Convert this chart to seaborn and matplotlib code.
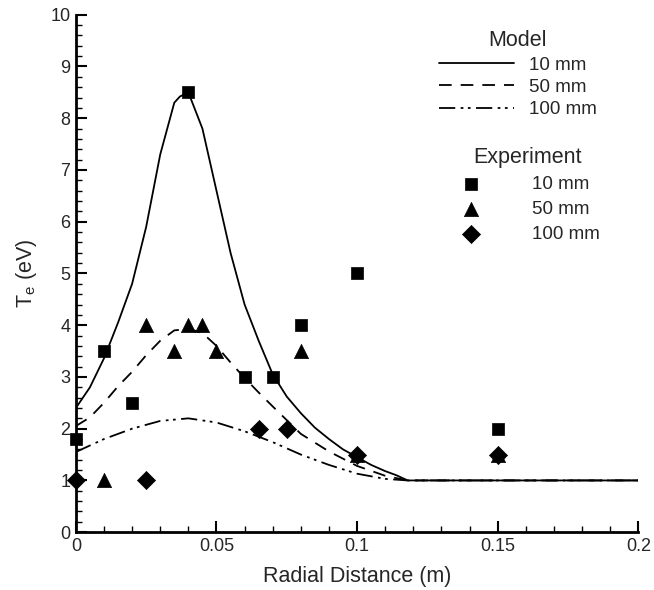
import numpy as np
import pandas as pd
import matplotlib
matplotlib.use("Agg")
import matplotlib.pyplot as plt
import seaborn as sns
from matplotlib.ticker import MultipleLocator

sns.set_style("ticks")
plt.rcParams['font.family'] = ['Liberation Sans', 'DejaVu Sans']

# ---- Model curves ----
m10_x = [0, 0.005, 0.01, 0.015, 0.02, 0.025, 0.03, 0.035, 0.037, 0.04, 0.045, 0.05, 0.055, 0.06, 0.065, 0.07, 0.075, 0.08, 0.085, 0.09, 0.095, 0.1, 0.105, 0.11, 0.114, 0.118, 0.2]
m10_y = [2.4, 2.8, 3.36, 4.05, 4.8, 5.9, 7.3, 8.3, 8.42, 8.5, 7.8, 6.6, 5.4, 4.4, 3.7, 3.05, 2.62, 2.3, 2.02, 1.8, 1.6, 1.45, 1.3, 1.18, 1.1, 1.0, 1.0]

m50_x = [0, 0.005, 0.01, 0.015, 0.02, 0.025, 0.03, 0.035, 0.04, 0.045, 0.05, 0.055, 0.06, 0.065, 0.07, 0.08, 0.09, 0.1, 0.11, 0.118, 0.2]
m50_y = [2.05, 2.22, 2.5, 2.82, 3.1, 3.42, 3.7, 3.9, 3.93, 3.85, 3.6, 3.28, 2.98, 2.7, 2.43, 1.9, 1.56, 1.28, 1.09, 1.0, 1.0]

m100_x = [0, 0.01, 0.02, 0.03, 0.04, 0.05, 0.06, 0.07, 0.08, 0.09, 0.1, 0.11, 0.118, 0.2]
m100_y = [1.55, 1.8, 2.0, 2.15, 2.2, 2.12, 1.95, 1.74, 1.5, 1.3, 1.13, 1.03, 1.0, 1.0]

# ---- Experiment ----
e10_x = [0, 0.01, 0.02, 0.04, 0.06, 0.07, 0.08, 0.1, 0.15]
e10_y = [1.8, 3.5, 2.5, 8.5, 3.0, 3.0, 4.0, 5.0, 2.0]

e50_x = [0.01, 0.025, 0.035, 0.04, 0.045, 0.05, 0.08, 0.1, 0.15]
e50_y = [1.0, 4.0, 3.5, 4.0, 4.0, 3.5, 3.5, 1.5, 1.5]

e100_x = [0, 0.025, 0.065, 0.075, 0.1, 0.15]
e100_y = [1.0, 1.0, 2.0, 2.0, 1.5, 1.5]

labels = ["10 mm", "50 mm", "100 mm"]

fig = plt.figure(figsize=(6.54, 5.9), dpi=100)
ax = fig.add_axes([0.116, 0.098, 0.86, 0.877])

styles = ['-', (0, (7, 5)), (0, (9, 3, 1.5, 2.5, 1.5, 3))]
for (mx, my), ls, lab in zip([(m10_x, m10_y), (m50_x, m50_y), (m100_x, m100_y)], styles, labels):
    sns.lineplot(x=mx, y=my, ax=ax, color='black', linewidth=1.3, label=lab,
                 estimator=None, sort=False)
    ax.get_lines()[-1].set_linestyle(ls)

markers = ['s', '^', 'D']
sizes = [78, 105, 85]
for (ex, ey), mk, sz, lab in zip([(e10_x, e10_y), (e50_x, e50_y), (e100_x, e100_y)], markers, sizes, labels):
    sns.scatterplot(x=ex, y=ey, ax=ax, marker=mk, s=sz, color='black', edgecolor='black',
                    linewidth=0.5, label=lab, zorder=5, clip_on=False)

handles, labs = ax.get_legend_handles_labels()
if ax.get_legend():
    ax.get_legend().remove()
m_h, m_l = handles[:3], labs[:3]
e_h, e_l = handles[3:], labs[3:]

leg1 = ax.legend(m_h, m_l, title="Model", loc='upper left', bbox_to_anchor=(0.645, 0.97),
                 frameon=False, fontsize=13.5, title_fontsize=15.5, handlelength=4.0,
                 handletextpad=0.8, labelspacing=0.28, borderaxespad=0, borderpad=0)
ax.add_artist(leg1)
leg2 = ax.legend(e_h, e_l, title="Experiment", loc='upper left', bbox_to_anchor=(0.675, 0.745),
                 frameon=False, fontsize=13.5, title_fontsize=15.5, handlelength=1.6,
                 handletextpad=2.5, labelspacing=0.42, borderaxespad=0, borderpad=0)

ax.set_xlim(0, 0.2)
ax.set_ylim(0, 10)
ax.xaxis.set_major_locator(MultipleLocator(0.05))
ax.xaxis.set_minor_locator(MultipleLocator(0.01))
ax.yaxis.set_major_locator(MultipleLocator(1))
ax.yaxis.set_minor_locator(MultipleLocator(0.2))
ax.set_xticks([0, 0.05, 0.1, 0.15, 0.2])
ax.set_xticklabels(["0", "0.05", "0.1", "0.15", "0.2"])
ax.tick_params(which='major', direction='in', length=8, width=1.5, labelsize=13, pad=4, color='black')
ax.tick_params(which='minor', direction='in', length=4, width=1.0, color='black')
for s in ['top', 'right']:
    ax.spines[s].set_visible(False)
for s in ['left', 'bottom']:
    ax.spines[s].set_linewidth(2)
    ax.spines[s].set_color('black')

ax.set_xlabel("Radial Distance (m)", fontsize=15.5, labelpad=8)
ax.set_ylabel(r"T$_\mathregular{e}$ (eV)", fontsize=15.5, labelpad=8)

fig.savefig("out.png", dpi=100, facecolor='white')
